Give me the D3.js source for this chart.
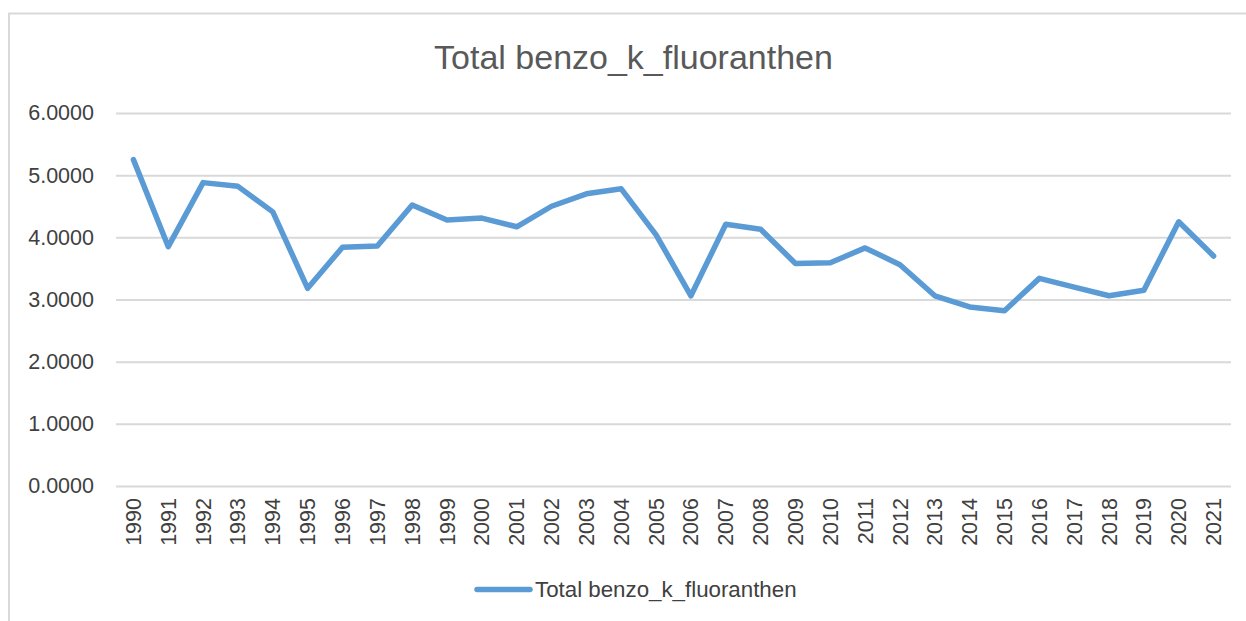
<!DOCTYPE html>
<html>
<head>
<meta charset="utf-8">
<script src="https://cdn.jsdelivr.net/npm/d3@7"></script>
<style>
  html, body { margin: 0; padding: 0; background: #fff; }
  svg { display: block; }
  text { font-family: "Liberation Sans", "DejaVu Sans", sans-serif; }
</style>
</head>
<body>
<svg id="chart" width="1246" height="621"></svg>
<script>
// Annual totals, 1990–2021
const years = ["1990","1991","1992","1993","1994","1995","1996","1997","1998","1999",
  "2000","2001","2002","2003","2004","2005","2006","2007","2008","2009",
  "2010","2011","2012","2013","2014","2015","2016","2017","2018","2019",
  "2020","2021"];
const totals = [5.25, 3.85, 4.88, 4.82, 4.41, 3.18, 3.84, 3.86, 4.52, 4.28,
  4.31, 4.17, 4.50, 4.70, 4.78, 4.04, 3.06, 4.21, 4.13, 3.58,
  3.59, 3.83, 3.56, 3.06, 2.88, 2.82, 3.34, 3.20, 3.06, 3.15,
  4.25, 3.70];
const yTicks = [0, 1, 2, 3, 4, 5, 6];
const seriesName = "Total benzo_k_fluoranthen";

const svg = d3.select("#chart");
const W = 1246, H = 621;
const plot = { left: 116, right: 1231, top: 113, bottom: 486 };

// outer chart frame
svg.append("rect")
  .attr("x", 9).attr("y", 13.5)
  .attr("width", W + 20).attr("height", H + 20)
  .attr("fill", "none").attr("stroke", "#d9d9d9").attr("stroke-width", 2);

const x = d3.scaleBand().domain(years).range([plot.left, plot.right]);
const y = d3.scaleLinear().domain([0, 6]).range([plot.bottom, plot.top]);

// title
svg.append("text")
  .attr("x", 633.5).attr("y", 69)
  .attr("text-anchor", "middle")
  .attr("font-size", 34).attr("fill", "#595959")
  .text(seriesName);

// horizontal gridlines + value axis labels
const yAxis = d3.axisLeft(y).tickValues(yTicks)
  .tickSize(-(plot.right - plot.left)).tickPadding(22)
  .tickFormat(d3.format(".4f"));
const gy = svg.append("g").attr("transform", `translate(${plot.left},0)`).call(yAxis);
gy.select(".domain").remove();
gy.selectAll(".tick line").attr("stroke", "#d9d9d9").attr("stroke-width", 2);
gy.selectAll(".tick text")
  .attr("font-size", 21.5).attr("fill", "#404040")
  .attr("font-family", "Liberation Sans, sans-serif");

// category axis labels, rotated
const xAxis = d3.axisBottom(x).tickSize(0).tickPadding(0);
const gx = svg.append("g").attr("transform", `translate(0,${plot.bottom})`).call(xAxis);
gx.select(".domain").remove();
gx.selectAll(".tick text")
  .attr("font-size", 21.5).attr("fill", "#404040")
  .attr("font-family", "Liberation Sans, sans-serif")
  .attr("text-anchor", "end")
  .attr("transform", "translate(0,12) rotate(-90)")
  .attr("x", 0).attr("y", 0).attr("dy", "0.35em");

// series line
const line = d3.line()
  .x((d, i) => x(years[i]) + x.bandwidth() / 2)
  .y(d => y(d));
svg.append("path")
  .datum(totals)
  .attr("d", line)
  .attr("fill", "none")
  .attr("stroke", "#5b9bd5")
  .attr("stroke-width", 5.5)
  .attr("stroke-linejoin", "round")
  .attr("stroke-linecap", "round");

// legend
const lg = svg.append("g");
lg.append("line")
  .attr("x1", 477).attr("x2", 530).attr("y1", 589.5).attr("y2", 589.5)
  .attr("stroke", "#5b9bd5").attr("stroke-width", 5.5).attr("stroke-linecap", "round");
lg.append("text")
  .attr("x", 535).attr("y", 597)
  .attr("font-size", 22.3).attr("fill", "#404040")
  .text(seriesName);
</script>
</body>
</html>
